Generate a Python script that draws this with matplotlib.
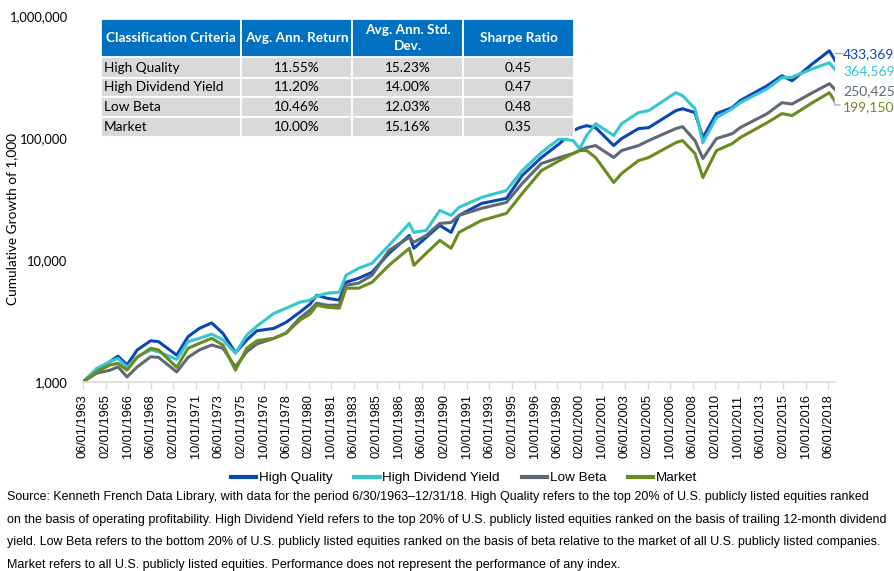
import matplotlib.pyplot as plt
from matplotlib import font_manager
from matplotlib.patches import Rectangle
from matplotlib.lines import Line2D
from matplotlib.ticker import FuncFormatter, FixedLocator

# sample dates (YYYY-MM)
dates = ["1963-06", "1964-06", "1965-06", "1966-01", "1966-09", "1967-06", "1968-06", "1969-01", "1970-05", "1971-03",
         "1972-01", "1972-12", "1973-10", "1974-09", "1975-07", "1976-04", "1977-07", "1978-06", "1979-06", "1980-03",
         "1980-09", "1981-06", "1982-05", "1982-11", "1983-10", "1984-10", "1986-01", "1987-07", "1987-11", "1988-10",
         "1989-10", "1990-08", "1991-03", "1992-11", "1994-09", "1995-11", "1997-04", "1998-08", "1999-08", "2000-02",
         "2000-08", "2001-04", "2002-08", "2003-03", "2004-06", "2005-03", "2007-03", "2007-09", "2008-08", "2009-03",
         "2010-03", "2011-05", "2011-12", "2013-12", "2015-01", "2015-10", "2017-04", "2018-07", "2018-12"]

high_quality = [1000, 1250, 1470, 1630, 1380, 1830, 2180, 2140, 1660, 2350,
                2750, 3050, 2500, 1740, 2210, 2630, 2750, 3090, 3730, 4340,
                5140, 4860, 4690, 6570, 7080, 7930, 11350, 15900, 12470, 15340,
                19230, 16850, 23200, 29100, 32000, 49300, 69200, 90000, 115000, 121600,
                126200, 121600, 86700, 98900, 119400, 121600, 167500, 173800, 161400, 100700,
                158500, 177400, 202300, 268500, 323600, 294500, 405500, 518600, 433369]
high_div_yield = [1000, 1290, 1470, 1560, 1320, 1610, 1830, 1770, 1530, 2140,
                  2280, 2470, 2210, 1720, 2420, 2870, 3650, 4030, 4510, 4690,
                  5050, 5340, 5440, 7500, 8550, 9400, 13200, 19950, 16850, 17500,
                  25500, 23200, 27000, 32600, 37150, 54100, 76000, 98900, 95300, 81900,
                  104700, 131200, 104700, 131200, 161400, 167500, 235000, 222300, 173800, 91600,
                  146900, 173800, 194700, 253500, 311900, 315000, 369300, 413800, 364569]
low_beta = [1000, 1180, 1250, 1330, 1100, 1330, 1610, 1590, 1210, 1590,
            1830, 2010, 1890, 1330, 1770, 2050, 2280, 2520, 3340, 3880,
            4430, 4260, 4260, 6210, 6450, 7500, 12000, 15340, 13960, 15900,
            19950, 20300, 23200, 26500, 29650, 42400, 61800, 69200, 74600, 78900,
            83500, 86700, 69200, 78900, 86700, 95300, 119400, 123900, 95300, 67900,
            98900, 108600, 121600, 158500, 194700, 190000, 235000, 278600, 250425]
market = [1000, 1210, 1380, 1420, 1250, 1590, 1890, 1830, 1320, 1890,
          2070, 2280, 2010, 1250, 1890, 2180, 2280, 2520, 3210, 3600,
          4260, 4100, 4030, 5870, 5870, 6570, 9050, 12470, 9050, 11350,
          14500, 12470, 16850, 21100, 24100, 35100, 54100, 65300, 74600, 78900,
          78900, 69200, 43200, 51200, 65300, 69200, 91600, 95300, 74600, 47400,
          78900, 90000, 100700, 133700, 158500, 152700, 194700, 235000, 199150]

names = ["High Quality", "High Dividend Yield", "Low Beta", "Market"]
colors = ["#0A46B4", "#35C6CF", "#5E6A73", "#6A8C1F"]

# table contents
col_headers = ["Classification Criteria", "Avg. Ann. Return", "Avg. Ann. Std.\nDev.", "Sharpe Ratio"]
avg_return = ["11.55%", "11.20%", "10.46%", "10.00%"]
avg_std = ["15.23%", "14.00%", "12.03%", "15.16%"]
sharpe = ["0.45", "0.47", "0.48", "0.35"]

footnote = [
    "Source: Kenneth French Data Library, with data for the period 6/30/1963\u201312/31/18. High Quality refers to the top 20% of U.S. publicly listed equities ranked",
    "on the basis of operating profitability. High Dividend Yield refers to the top 20% of U.S. publicly listed equities ranked on the basis of trailing 12-month dividend",
    "yield. Low Beta refers to the bottom 20% of U.S. publicly listed equities ranked on the basis of beta relative to the market of all U.S. publicly listed companies.",
    "Market refers to all U.S. publicly listed equities. Performance does not represent the performance of any index.",
]


def month_index(s):
    y, m = s.split("-")
    return (int(y) - 1963) * 12 + int(m) - 6


W, H = 894, 571
def fx(x):
    return x / W
def fy(y):
    return 1 - y / H


installed = {f.name for f in font_manager.fontManager.ttflist}
narrow = "Liberation Sans Narrow" if "Liberation Sans Narrow" in installed else "Liberation Sans"

x = [month_index(d) for d in dates]
series = [high_quality, high_div_yield, low_beta, market]

fig = plt.figure(figsize=(W / 100, H / 100), dpi=100)
ax = fig.add_axes([fx(83), fy(382), 752 / W, 366 / H])

for vals, name, c in zip(series, names, colors):
    ax.plot(x, vals, color=c, lw=2.2, label=name, solid_joinstyle="round")

ax.set_yscale("log")
ax.set_ylim(1000, 1000000)
ax.set_xlim(0, 666)
ax.yaxis.set_major_locator(FixedLocator([1e3, 1e4, 1e5, 1e6]))
ax.yaxis.set_minor_locator(FixedLocator([]))
ax.yaxis.set_major_formatter(FuncFormatter(lambda v, p: f"{v:,.0f}"))
ax.tick_params(axis="y", length=0, pad=11, labelsize=9.3)
for lab in ax.get_yticklabels():
    lab.set_family("Lato")

ticks = list(range(0, 661, 20))
labels = []
for t in ticks:
    mm = 5 + t
    labels.append(f"{mm % 12 + 1:02d}/01/{1963 + mm // 12}")
ax.set_xticks(ticks)
ax.set_xticklabels(labels, rotation=90, fontsize=9.2, family="Liberation Sans")
ax.tick_params(axis="x", length=5, width=1, color="#D9D9D9", pad=4)

for s in ["top", "right", "left"]:
    ax.spines[s].set_visible(False)
ax.spines["bottom"].set_color("#D9D9D9")
ax.spines["bottom"].set_linewidth(1.2)

ax.set_ylabel("Cumulative Growth of 1,000", family="Lato", fontsize=9.8)
ax.yaxis.set_label_coords(-0.0864, 0.445)

# end labels
offsets = [-6, 1.5, 1.5, 5.5]
for vals, c, dy in zip(series, colors, offsets):
    ax.annotate(f"{vals[-1]:,}", xy=(x[-1], vals[-1]), xytext=(8, -dy),
                textcoords="offset pixels", color=c, fontsize=10, family="Lato",
                va="center", ha="left", annotation_clip=False)
# leader lines
fig.add_artist(Line2D([fx(835), fx(842)], [fy(53), fy(53)], color="#A6A6A6", lw=0.9))
fig.add_artist(Line2D([fx(834), fx(835), fx(840)], [fy(98), fy(105), fy(105)], color="#A6A6A6", lw=0.9))

# table
col_edges = [101, 241, 352, 463, 574]
row_edges = [19, 57.5, 77.5, 97, 117, 136.7]
rows = [[n, r, s, sh] for n, r, s, sh in zip(names, avg_return, avg_std, sharpe)]
for i in range(5):
    for j in range(4):
        x0, x1 = col_edges[j], col_edges[j + 1]
        y0, y1 = row_edges[i], row_edges[i + 1]
        fc = "#0070C0" if i == 0 else "#D9D9D9"
        fig.add_artist(Rectangle((fx(x0), fy(y1)), (x1 - x0) / W, (y1 - y0) / H,
                                 transform=fig.transFigure, facecolor=fc,
                                 edgecolor="white", lw=1.3, zorder=5))
        yc = fy((y0 + y1) / 2)
        if i == 0:
            fig.text(fx((x0 + x1) / 2), yc, col_headers[j], color="white", fontweight="bold",
                     family="Lato", fontsize=9.8, ha="center", va="center", zorder=6,
                     linespacing=1.45)
        elif j == 0:
            fig.text(fx(x0 + 3), yc, rows[i - 1][0], color="black", family="Lato",
                     fontsize=9.8, ha="left", va="center", zorder=6)
        else:
            fig.text(fx((x0 + x1) / 2), yc, rows[i - 1][j], color="black", family="Lato",
                     fontsize=9.8, ha="center", va="center", zorder=6)

# legend
handles = [Line2D([], [], color=c, lw=3) for c in colors]
leg_size = 11 if narrow != "Liberation Sans" else 9.7
fig.legend(handles, names, loc="center", bbox_to_anchor=(fx(464), fy(478)), ncol=4,
           frameon=False, handlelength=1.9, handletextpad=0.2, columnspacing=1.6,
           prop={"family": narrow, "size": leg_size})

# footnote lines, sized so the widest line fits the reference width
foot_texts = []
for k, line in enumerate(footnote):
    foot_texts.append(fig.text(fx(7), fy(497 + 22.7 * k), line, ha="left", va="center",
                               fontsize=10, family=narrow))
fig.canvas.draw()
r = fig.canvas.get_renderer()
widest = max(t.get_window_extent(r).width for t in foot_texts)
for t in foot_texts:
    t.set_fontsize(10 * 880 / widest)

fig.savefig("out.png", dpi=100)
